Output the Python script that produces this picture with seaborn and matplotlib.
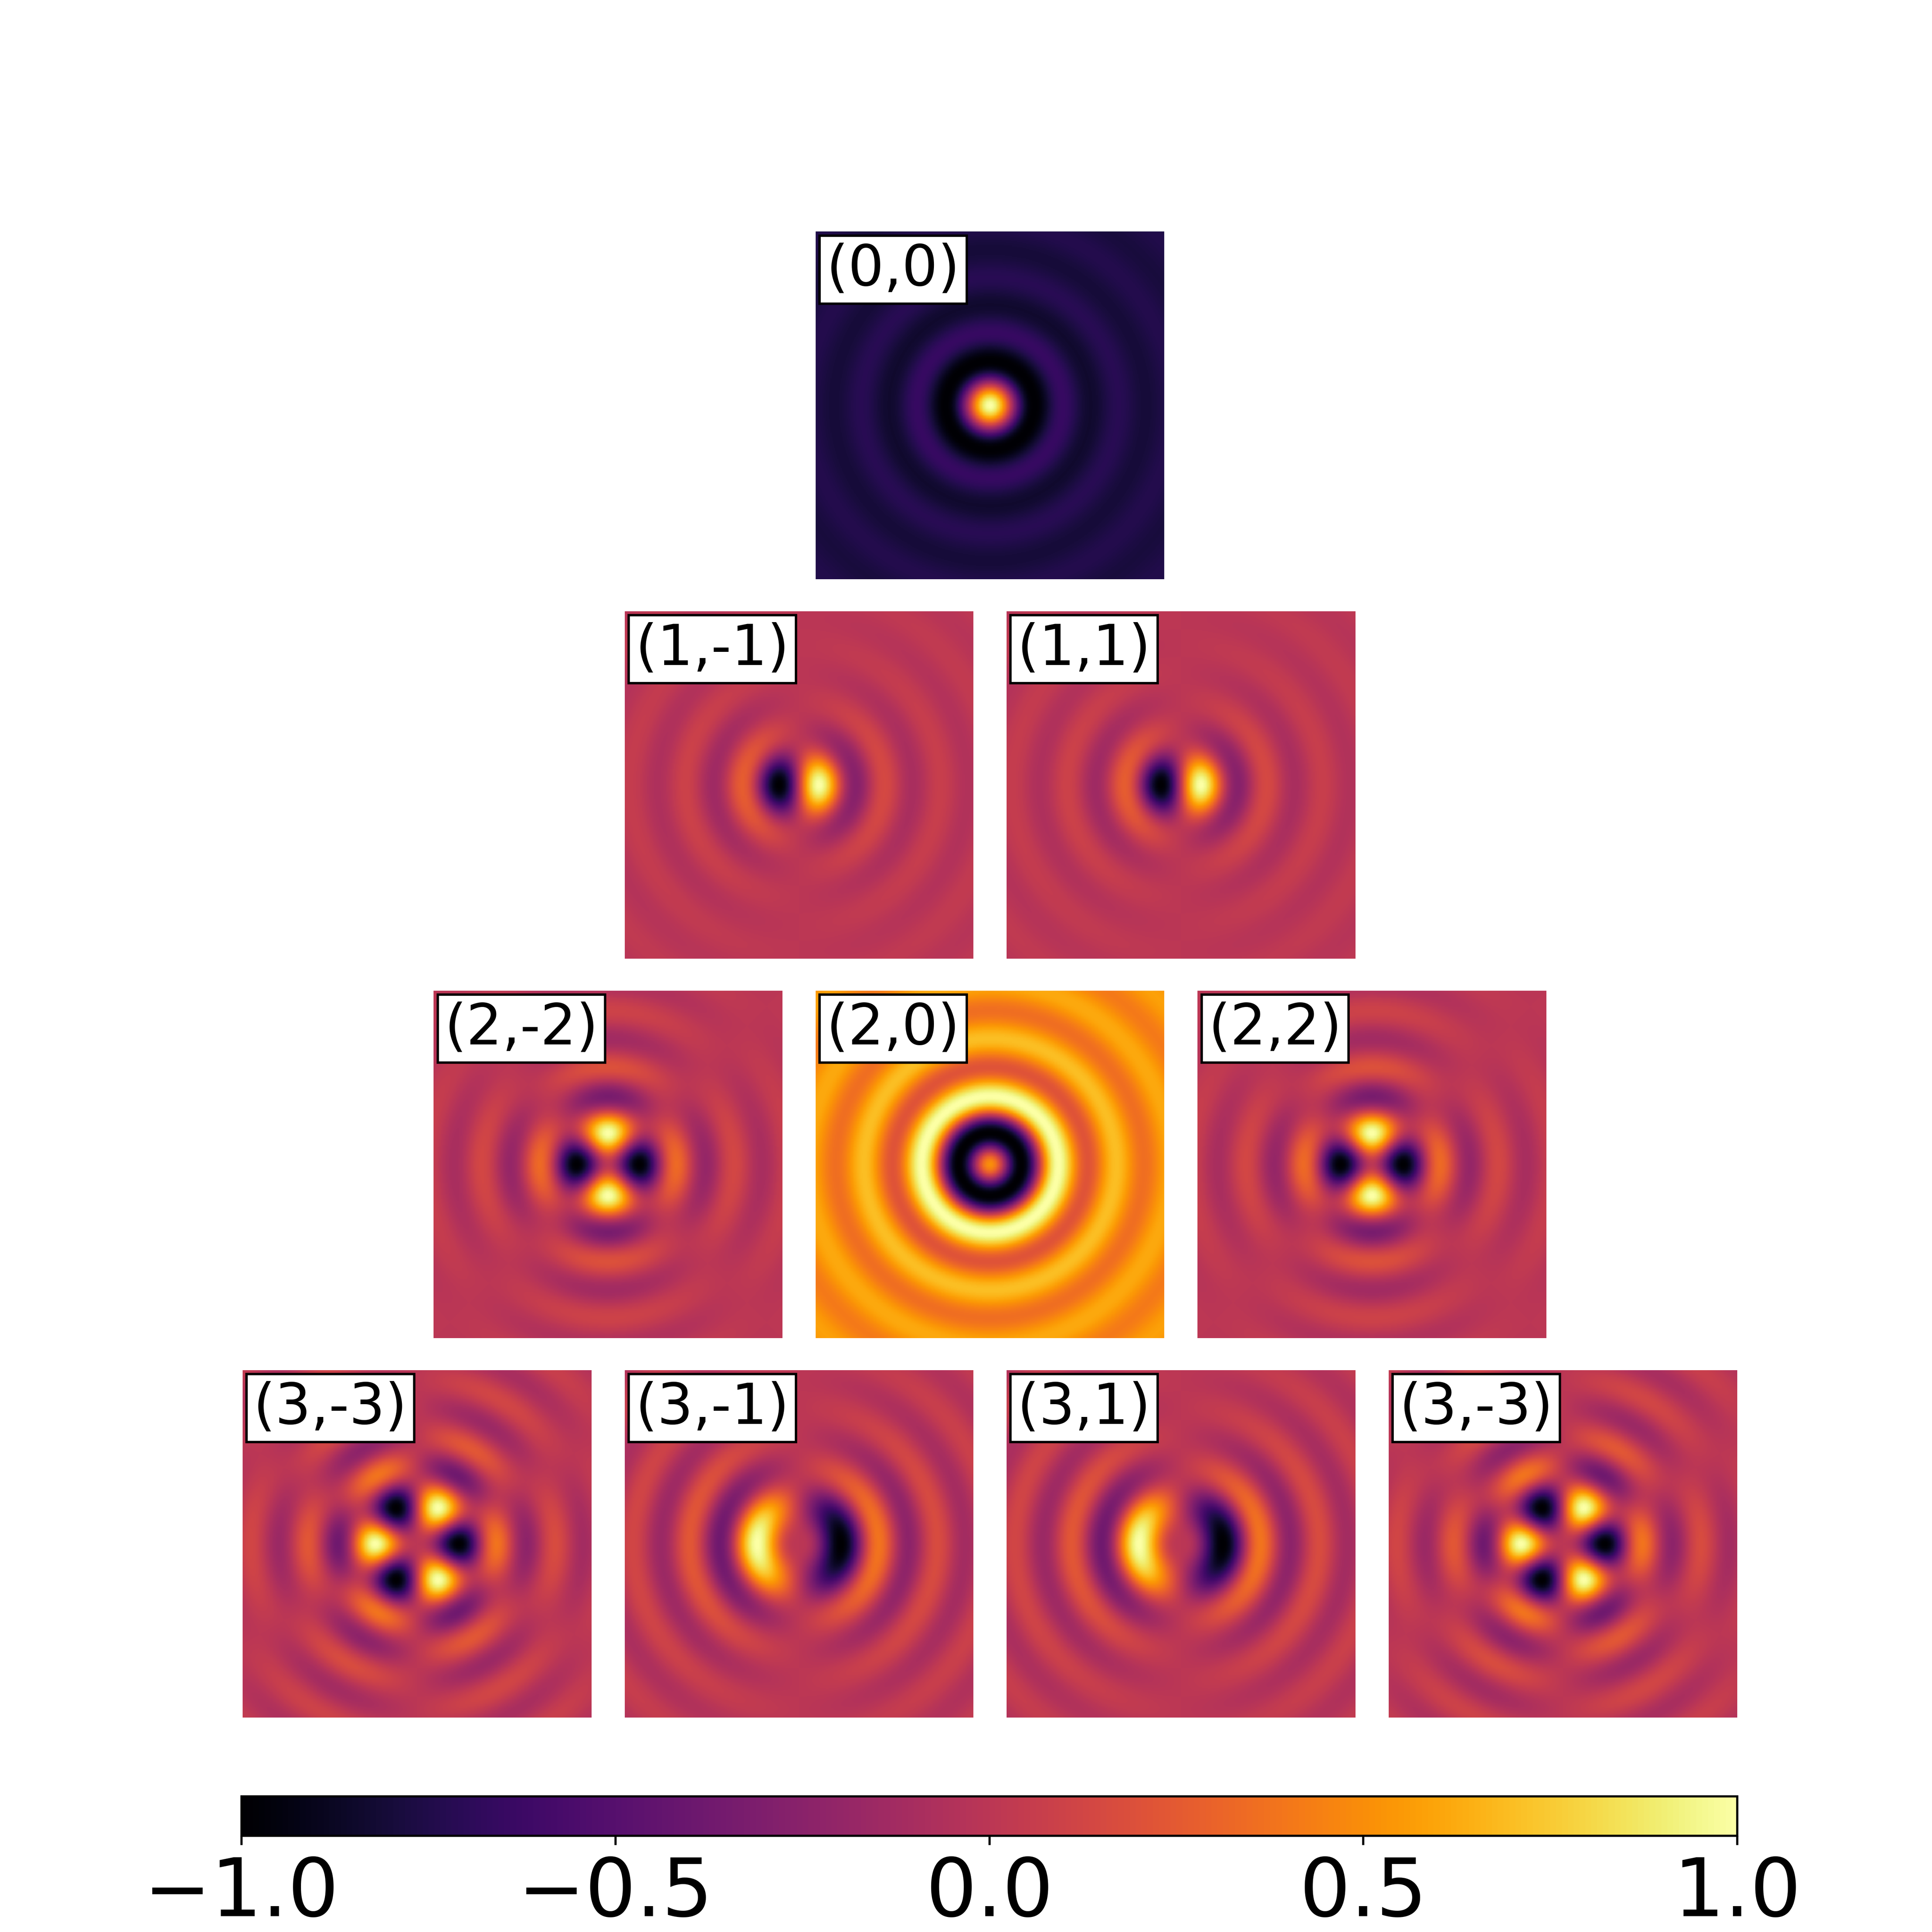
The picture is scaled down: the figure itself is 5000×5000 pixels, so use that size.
import numpy as np
import seaborn as sns
import matplotlib
matplotlib.use("Agg")
import matplotlib.pyplot as plt
from matplotlib.offsetbox import AnchoredText

# panel labels as printed on the figure (last one repeats "(3,-3)")
labels = ["(0,0)",
          "(1,-1)", "(1,1)",
          "(2,-2)", "(2,0)", "(2,2)",
          "(3,-3)", "(3,-1)", "(3,1)", "(3,-3)"]
# radial order n and angular order |m| of each panel
orders_n = [0, 1, 1, 2, 2, 2, 3, 3, 3, 3]
orders_m = [0, 1, 1, 2, 0, 2, 3, 1, 1, 3]
# sign of the pattern
signs = [1, 1, 1, -1, -1, -1, -1, -1, -1, -1]
# row of each panel in the pyramid
rows = [0, 1, 1, 2, 2, 2, 3, 3, 3, 3]

half_width = 20.0
npix = 400
cbar_ticks = [-1.0, -0.5, 0.0, 0.5, 1.0]


def bessel_j(order, x):
    tau = np.linspace(0, np.pi, 2001)
    vals = np.cos(order * tau[None, :] - x[:, None] * np.sin(tau[None, :]))
    return np.trapezoid(vals, tau, axis=1) / np.pi


coords = np.linspace(-half_width, half_width, npix)
xx, yy = np.meshgrid(coords, coords)
rr = np.hypot(xx, yy)
theta = np.arctan2(yy, xx)
r1d = np.linspace(1e-6, rr.max() + 0.1, 4000)


def pattern(n, m, sign):
    radial = bessel_j(n + 1, r1d) / r1d
    field = sign * np.interp(rr, r1d, radial) * np.cos(m * theta)
    lo, hi = field.min(), field.max()
    return 2 * (field - lo) / (hi - lo) - 1


fig = plt.figure(figsize=(10, 10), dpi=500)

px = 1568.0
w = 283 / px
h = 282 / px
step_x = 310 / px
step_y = 308 / px

col_in_row = {}
mesh = None
for i, lab in enumerate(labels):
    r = rows[i]
    c = col_in_row.get(r, 0)
    col_in_row[r] = c + 1
    left = 197 / px + (3 - r) * step_x / 2 + c * step_x
    bottom = 1 - (188 / px + r * step_y + h)
    ax = fig.add_axes([left, bottom, w, h])
    data = pattern(orders_n[i], orders_m[i], signs[i])
    sns.heatmap(data, ax=ax, cmap="inferno", vmin=-1, vmax=1, cbar=False,
                xticklabels=False, yticklabels=False, rasterized=True)
    ax.set_xticks([])
    ax.set_yticks([])
    at = AnchoredText(lab, loc="upper left", prop=dict(size=21),
                      frameon=True, pad=0.12, borderpad=0.07)
    at.patch.set_edgecolor("black")
    at.patch.set_linewidth(0.9)
    ax.add_artist(at)
    mesh = ax.collections[0]

cax = fig.add_axes([196 / px, 1 - 1490 / px, 1214 / px, 32 / px])
cb = fig.colorbar(mesh, cax=cax, orientation="horizontal", ticks=cbar_ticks)
cb.ax.tick_params(labelsize=30)

plt.savefig("out.png", dpi=500)
